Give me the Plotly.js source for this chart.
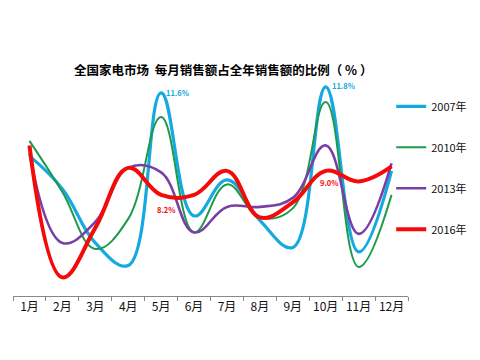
<!DOCTYPE html>
<html><head><meta charset="utf-8">
<script src="https://cdn.plot.ly/plotly-3.0.1.min.js"></script>
<style>html,body{margin:0;padding:0;background:#fff}#c{width:480px;height:360px}</style>
</head><body><div id="c"></div>
<script>
const months = ["1月","2月","3月","4月","5月","6月","7月","8月","9月","10月","11月","12月"];
const s2007 = [9.5, 8.4, 6.6, 5.85, 11.6, 7.5, 8.7, 7.35, 6.45, 11.8, 6.3, 9.0];
const s2010 = [10.0, 8.3, 6.4, 7.4, 10.8, 6.95, 8.55, 7.45, 7.75, 11.3, 5.8, 8.2];
const s2013 = [9.6, 6.6, 7.3, 9.1, 8.95, 6.95, 7.8, 7.8, 8.1, 9.85, 6.9, 9.25];
const s2016 = [9.85, 5.45, 7.1, 9.1, 8.2, 8.2, 9.0, 7.45, 7.95, 9.0, 8.65, 9.15];
const names = ["2007年","2010年","2013年","2016年"];

const FONT = "'Noto Sans CJK SC', 'Noto Sans', sans-serif";
const series = [s2007, s2010, s2013, s2016];
const colors = ["#14A9E0", "#1E9A4A", "#7A3FA6", "#F50A0A"];
const widths = [3.2, 2, 2.6, 4];

const traces = series.map((s, i) => ({
  x: months, y: s, name: names[i], type: "scatter", mode: "lines",
  legendgroup: "g" + i,
  line: {color: colors[i], width: widths[i], shape: "spline", smoothing: 1.15},
  hoverinfo: "skip"
}));

const layout = {
  width: 480, height: 360,
  margin: {l: 13, r: 72, t: 80, b: 64, autoexpand: false},
  paper_bgcolor: "#fff", plot_bgcolor: "#fff",
  font: {family: FONT, color: "#111"},
  title: {text: "<b>全国家电市场  每月销售额占全年销售额的比例（ % ）</b>", x: 0.465, xanchor: "center", y: 0.805, yanchor: "middle", font: {size: 12.5, color: "#000", family: FONT}},
  xaxis: {type: "category", tickson: "boundaries", ticks: "outside", ticklen: 4, tickcolor: "#888", tickangle: 0,
          showline: true, linecolor: "#888", linewidth: 1, showgrid: false, zeroline: false,
          tickfont: {size: 12, color: "#111", family: FONT}, range: [-0.5, 11.5], fixedrange: true},
  yaxis: {range: [4.83, 12.03], visible: false, showgrid: false, zeroline: false, fixedrange: true},
  legend: {xref: "container", yref: "container", x: 0.815, xanchor: "left", y: 0.745, yanchor: "top", tracegroupgap: 22,
           font: {size: 11, color: "#111", family: FONT}, itemwidth: 30, bgcolor: "rgba(0,0,0,0)"},
  showlegend: true,
  annotations: [
    {x: months[4], y: s2007[4], text: "<b>" + s2007[4].toFixed(1) + "%</b>", showarrow: false, xanchor: "left", yanchor: "middle", xshift: 3, font: {size: 7.5, color: colors[0], family: FONT}},
    {x: months[9], y: s2007[9], text: "<b>" + s2007[9].toFixed(1) + "%</b>", showarrow: false, xanchor: "left", yanchor: "middle", xshift: 4, yshift: 1, font: {size: 7.5, color: colors[0], family: FONT}},
    {x: months[4], y: s2016[4], text: "<b>" + s2016[4].toFixed(1) + "%</b>", showarrow: false, xanchor: "center", yanchor: "middle", xshift: 5, yshift: -15, font: {size: 7.5, color: colors[3], family: FONT}},
    {x: months[9], y: s2016[9], text: "<b>" + s2016[9].toFixed(1) + "%</b>", showarrow: false, xanchor: "center", yanchor: "middle", xshift: 4, yshift: -12, font: {size: 7.5, color: colors[3], family: FONT}}
  ]
};
Plotly.newPlot("c", traces, layout, {staticPlot: true, displayModeBar: false});
</script></body></html>
